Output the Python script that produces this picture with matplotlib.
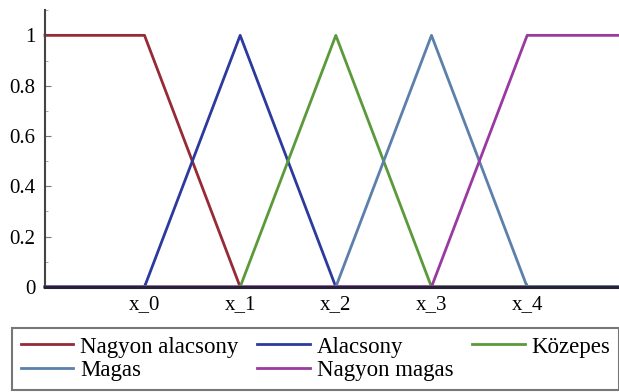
import matplotlib
matplotlib.use("Agg")
import matplotlib.pyplot as plt
from matplotlib.ticker import MultipleLocator

plt.rcParams['font.family'] = ['Liberation Serif', 'DejaVu Serif']

xt = [0, 1, 2, 3, 4]
xt_labels = ["x_0", "x_1", "x_2", "x_3", "x_4"]
x_all = [-1.04, 0, 1, 2, 3, 4, 4.96]

series_names = ["Nagyon alacsony", "Alacsony", "Közepes", "Magas", "Nagyon magas"]
nagyon_alacsony = [1, 1, 0, 0, 0, 0, 0]
alacsony = [0, 0, 1, 0, 0, 0, 0]
kozepes = [0, 0, 0, 1, 0, 0, 0]
magas = [0, 0, 0, 0, 1, 0, 0]
nagyon_magas = [0, 0, 0, 0, 0, 1, 1]
colors = ["#962a35", "#2b3a9c", "#5a9a3a", "#5b80aa", "#993aa0"]

fig = plt.figure(figsize=(6.19, 3.92), dpi=100)
ax = fig.add_axes([45 / 619, 0.268, 1 - 45 / 619, 0.706])

handles = {}
for name, ys, c in zip(series_names, [nagyon_alacsony, alacsony, kozepes, magas, nagyon_magas], colors):
    h, = ax.plot(x_all, ys, color=c, lw=2, clip_on=False, zorder=2)
    handles[name] = h

ax.set_xlim(-1.04, 4.96)
ax.set_ylim(0, 1.1)
ax.set_xticks(xt)
ax.set_xticklabels(xt_labels)
ax.set_yticks([0, 0.2, 0.4, 0.6, 0.8, 1])
ax.set_yticklabels(["0", "0.2", "0.4", "0.6", "0.8", "1"])
ax.yaxis.set_minor_locator(MultipleLocator(0.1))
for s in ["top", "right"]:
    ax.spines[s].set_visible(False)
ax.spines["left"].set_color("#444444")
ax.spines["left"].set_linewidth(1.5)
ax.spines["bottom"].set_color("#2a1f3a")
ax.spines["bottom"].set_linewidth(2.2)
ax.spines["bottom"].set_zorder(2.5)
ax.tick_params(axis='y', direction='in', length=4, labelsize=15, color="#777777", pad=7)
ax.tick_params(axis='y', which='minor', direction='in', length=2, color="#999999")
ax.tick_params(axis='x', direction='in', length=3, labelsize=15, color="#777777", pad=6)

order = ["Nagyon alacsony", "Magas", "Alacsony", "Nagyon magas", "Közepes"]
leg = fig.legend([handles[n] for n in order], order, ncol=3, loc='lower left',
                 bbox_to_anchor=(12 / 619, 2 / 392, 1 - 12 / 619, 60 / 392), mode='expand',
                 fontsize=16.5, frameon=True, fancybox=False, edgecolor="#555555",
                 handlelength=2.3, handletextpad=0.3, columnspacing=0.2,
                 labelspacing=0.12, borderpad=0.38, borderaxespad=0)
leg.get_frame().set_linewidth(1.5)

fig.savefig("out.png", dpi=100)
